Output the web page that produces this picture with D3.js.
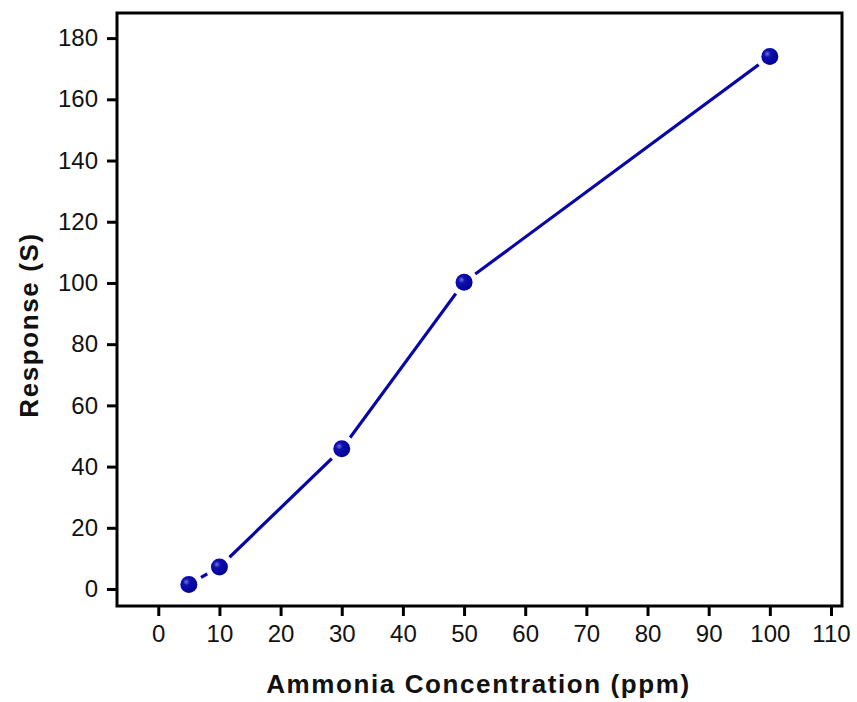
<!DOCTYPE html>
<html>
<head>
<meta charset="utf-8">
<script src="https://cdn.jsdelivr.net/npm/d3@7"></script>
<style>
  html, body { margin: 0; padding: 0; background: #ffffff; }
  svg { display: block; }
</style>
</head>
<body>
<svg id="chart" width="857" height="702"></svg>
<script>
// ---- data ----
const concentration = [5, 10, 30, 50, 100];
const response = [1.5, 7.2, 45.8, 100.2, 174];
const xTicks = [0, 10, 20, 30, 40, 50, 60, 70, 80, 90, 100, 110];
const yTicks = [0, 20, 40, 60, 80, 100, 120, 140, 160, 180];
const xTitle = "Ammonia Concentration (ppm)";
const yTitle = "Response (S)";

const svg = d3.select("#chart");
const W = 857, H = 702;
const m = { left: 117, right: W - 842, top: 13, bottom: H - 606 };

const x = d3.scaleLinear().domain([-6.75, 111.8]).range([m.left, W - m.right]);
const y = d3.scaleLinear().domain([-5.55, 188.2]).range([H - m.bottom, m.top]);

const tickFont = "'Liberation Sans Narrow', 'Arial Narrow', 'Liberation Sans', Arial, sans-serif";

// axes
const gx = svg.append("g")
  .attr("transform", `translate(0,${H - m.bottom})`)
  .call(d3.axisBottom(x).tickValues(xTicks).tickSize(10).tickPadding(9).tickSizeOuter(0));
const gy = svg.append("g")
  .attr("transform", `translate(${m.left},0)`)
  .call(d3.axisLeft(y).tickValues(yTicks).tickSize(10).tickPadding(9).tickSizeOuter(0));

[gx, gy].forEach(g => {
  g.select(".domain").remove();
  g.selectAll(".tick line").attr("stroke", "#000").attr("stroke-width", 3);
  g.selectAll(".tick text")
    .attr("fill", "#111")
    .style("font-family", tickFont)
    .style("font-size", "24px");
});

// frame
svg.append("rect")
  .attr("x", m.left).attr("y", m.top)
  .attr("width", W - m.left - m.right).attr("height", H - m.top - m.bottom)
  .attr("fill", "none").attr("stroke", "#000").attr("stroke-width", 3);

// gradient for markers
const defs = svg.append("defs");
const grad = defs.append("radialGradient").attr("id", "ball")
  .attr("cx", "35%").attr("cy", "35%").attr("r", "65%");
grad.append("stop").attr("offset", "0%").attr("stop-color", "#7078d8");
grad.append("stop").attr("offset", "30%").attr("stop-color", "#1010b0");
grad.append("stop").attr("offset", "100%").attr("stop-color", "#000098");

const pts = concentration.map((c, i) => ({ c, r: response[i] }));

// line
svg.append("path")
  .datum(pts)
  .attr("fill", "none")
  .attr("stroke", "#0606aa")
  .attr("stroke-width", 3.2)
  .attr("d", d3.line().x(d => x(d.c)).y(d => y(d.r)));

// halo (gap between line and marker)
svg.append("g").selectAll("circle.halo").data(pts).join("circle")
  .attr("cx", d => x(d.c)).attr("cy", d => y(d.r)).attr("r", 14)
  .attr("fill", "#fff");

// markers
svg.append("g").selectAll("circle.mk").data(pts).join("circle")
  .attr("cx", d => x(d.c)).attr("cy", d => y(d.r)).attr("r", 8.5)
  .attr("fill", "url(#ball)");

// titles
svg.append("text")
  .attr("x", (m.left + W - m.right) / 2 - 1)
  .attr("y", 693)
  .attr("text-anchor", "middle")
  .style("font-family", "'Liberation Sans', Arial, sans-serif")
  .style("font-weight", "bold")
  .style("font-size", "26px")
  .style("letter-spacing", "1.6px")
  .attr("fill", "#111")
  .text(xTitle);

svg.append("text")
  .attr("transform", `translate(38,325) rotate(-90)`)
  .attr("text-anchor", "middle")
  .style("font-family", "'Liberation Sans', Arial, sans-serif")
  .style("font-weight", "bold")
  .style("font-size", "26px")
  .style("letter-spacing", "1.6px")
  .attr("fill", "#111")
  .text(yTitle);
</script>
</body>
</html>
